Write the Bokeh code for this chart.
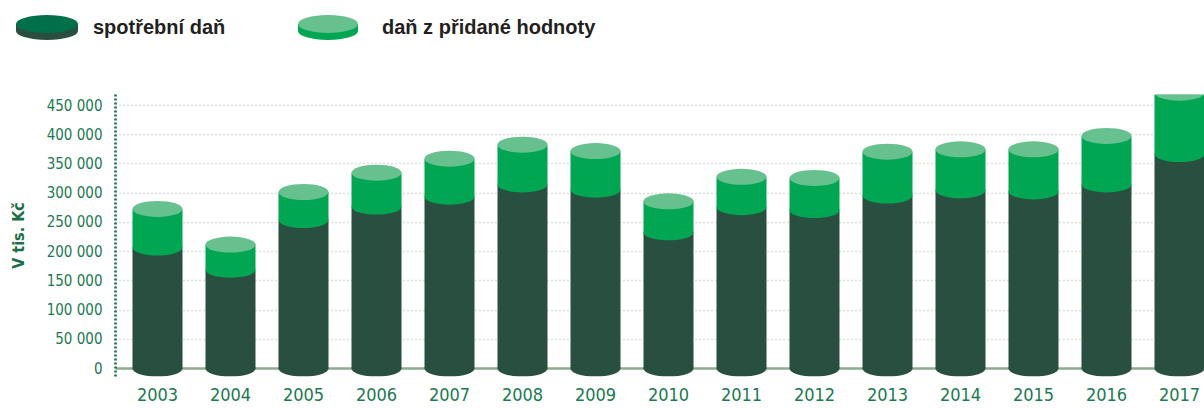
from bokeh.plotting import figure
from bokeh.models import Range1d, FixedTicker, Span, ColumnDataSource, Div
from bokeh.layouts import column
from bokeh.embed import file_html
from bokeh.resources import INLINE

# ---- data ----
years = ["2003", "2004", "2005", "2006", "2007", "2008", "2009", "2010",
         "2011", "2012", "2013", "2014", "2015", "2016", "2017"]
excise = [207000, 169000, 254000, 277000, 294000, 315000, 306000, 233000,
          276000, 271000, 296000, 305000, 303000, 315000, 367000]
vat = [66000, 43000, 48000, 58000, 65000, 68000, 66000, 53000,
       52000, 55000, 75000, 70000, 72000, 83000, 105000]
series = ["spotřební daň", "daň z přidané hodnoty"]
y_ticks = [0, 50000, 100000, 150000, 200000, 250000, 300000, 350000, 400000, 450000]
y_tick_labels = ["0", "50 000", "100 000", "150 000", "200 000", "250 000",
                 "300 000", "350 000", "400 000", "450 000"]
y_title = "V tis. Kč"

# ---- style ----
FONT = "DejaVu Sans Condensed"
DARK_SIDE = "#284f3f"
DARK_TOP = "#00704a"
GREEN_SIDE = "#00a651"
GREEN_TOP = "#66c18e"
LABEL_GREEN = "#1b7a50"
TEXT_DARK = "#231f20"

W = 1204
LEG_H = 48
H = 408 - LEG_H
idx = list(range(len(years)))
total = [e + v for e, v in zip(excise, vat)]
src = ColumnDataSource(dict(x=idx, excise=excise, total=total))
BAR_W = 0.685
SLOT = 73.0                 # px per category
PX_PER = 263 / 450000       # px per value unit
FRAME_LEFT = 115

# ---- legend (HTML/SVG strip above the chart) ----
def icon(cx, cy, rx, ry, depth, side, top):
    return (f'<rect x="{cx - rx}" y="{cy}" width="{2 * rx}" height="{depth}" fill="{side}"/>'
            f'<ellipse cx="{cx}" cy="{cy + depth}" rx="{rx}" ry="{ry}" fill="{side}"/>'
            f'<ellipse cx="{cx}" cy="{cy}" rx="{rx}" ry="{ry}" fill="{top}"/>')

def txt(x, s):
    return (f'<text x="{x}" y="34" font-family="{FONT}" font-weight="bold" '
            f'font-size="20px" fill="{TEXT_DARK}">{s}</text>')

svg = (f'<svg xmlns="http://www.w3.org/2000/svg" width="{W}" height="{LEG_H}" style="display:block">'
       + icon(47, 24, 31, 9, 7, DARK_SIDE, DARK_TOP) + txt(93, series[0])
       + icon(328, 24, 30, 9, 7, GREEN_SIDE, GREEN_TOP) + txt(382, series[1])
       + '</svg>')
legend = Div(text=svg, width=W, height=LEG_H, margin=0)

# ---- main chart ----
p = figure(width=W, height=H, output_backend="svg", toolbar_location=None,
           x_range=Range1d(-(157 - FRAME_LEFT) / SLOT, -(157 - FRAME_LEFT) / SLOT + (W - FRAME_LEFT) / SLOT),
           y_range=Range1d(-8 / PX_PER, 450000 + 11 / PX_PER),
           min_border_left=FRAME_LEFT, min_border_right=0,
           min_border_top=94 - LEG_H, min_border_bottom=H - (376 - LEG_H))
p.outline_line_color = None
p.background_fill_color = "white"
p.border_fill_color = "white"

p.xgrid.visible = False
p.ygrid.ticker = FixedTicker(ticks=y_ticks[1:])
p.ygrid.grid_line_color = "#b5c0b5"
p.ygrid.grid_line_dash = "1 3"
p.ygrid.grid_line_width = 1.5

p.xaxis.ticker = FixedTicker(ticks=idx)
p.xaxis.major_label_overrides = {i: y for i, y in zip(idx, years)}
p.xaxis.axis_line_color = None
p.xaxis.major_tick_line_color = None
p.xaxis.major_tick_out = 0
p.xaxis.major_tick_in = 0
p.xaxis.minor_tick_line_color = None
p.xaxis.minor_tick_out = 0
p.xaxis.major_label_text_font = FONT
p.xaxis.major_label_text_font_size = "18px"
p.xaxis.major_label_text_color = LABEL_GREEN
p.xaxis.major_label_standoff = 11

p.yaxis.ticker = FixedTicker(ticks=y_ticks)
p.yaxis.major_label_overrides = {t: l for t, l in zip(y_ticks, y_tick_labels)}
p.yaxis.axis_line_color = "#0d6b40"
p.yaxis.axis_line_dash = "2 2"
p.yaxis.axis_line_width = 2.5
p.yaxis.major_tick_line_color = None
p.yaxis.major_tick_out = 0
p.yaxis.major_tick_in = 0
p.yaxis.minor_tick_line_color = None
p.yaxis.minor_tick_out = 0
p.yaxis.major_label_text_font = FONT
p.yaxis.major_label_text_font_size = "15px"
p.yaxis.major_label_text_color = LABEL_GREEN
p.yaxis.major_label_standoff = 13
p.yaxis.axis_label = y_title
p.yaxis.axis_label_text_font = FONT
p.yaxis.axis_label_text_font_style = "bold"
p.yaxis.axis_label_text_font_size = "16px"
p.yaxis.axis_label_text_color = "#1b6e47"
p.yaxis.axis_label_standoff = 16

p.add_layout(Span(location=0, dimension="width", line_color="#8fab8f",
                  line_width=2.5, level="underlay"))

# cylinders
p.vbar(x="x", top="excise", bottom=0, width=BAR_W, source=src,
       fill_color=DARK_SIDE, line_color=None)
p.ellipse(x="x", y=0, width=BAR_W, height=16, height_units="screen", source=src,
          fill_color=DARK_SIDE, line_color=None)
p.vbar(x="x", top="total", bottom="excise", width=BAR_W, source=src,
       fill_color=GREEN_SIDE, line_color=None)
p.ellipse(x="x", y="excise", width=BAR_W, height=16, height_units="screen", source=src,
          fill_color=GREEN_SIDE, line_color=None)
p.ellipse(x="x", y="total", width=BAR_W, height=16, height_units="screen", source=src,
          fill_color=GREEN_TOP, line_color=None)

layout = column(legend, p, spacing=0)
open("out.html", "w", encoding="utf-8").write(file_html(layout, INLINE))
